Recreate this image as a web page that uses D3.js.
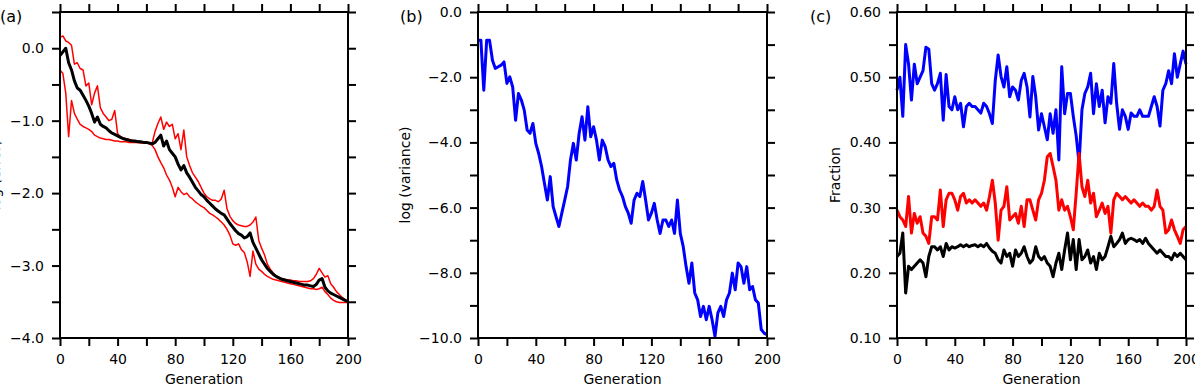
<!DOCTYPE html>
<html>
<head>
<meta charset="utf-8">
<script src="https://cdn.jsdelivr.net/npm/d3@7"></script>
<style>
  html, body { margin: 0; padding: 0; background: #fff; }
  svg { display: block; }
  text { font-family: "DejaVu Sans", "Liberation Sans", sans-serif; fill: #000; }
</style>
</head>
<body>
<svg id="chart" width="1195" height="386"></svg>
<script>
// ---------------- DATA ----------------
const generations = d3.range(0, 201, 2);   // generation index of every sample

const xTicks = [0, 20, 40, 60, 80, 100, 120, 140, 160, 180, 200];
const xTickLabels = [0, 40, 80, 120, 160, 200];

// (a) log error: mean (black), max / min envelope (red)
const aMean = [-0.10,-0.05,0.00,-0.20,-0.30,-0.45,-0.55,-0.58,-0.65,-0.72,
  -0.80,-0.90,-1.02,-0.95,-1.05,-1.08,-1.10,-1.14,-1.17,-1.19,
  -1.21,-1.23,-1.25,-1.26,-1.27,-1.28,-1.28,-1.29,-1.29,-1.30,
  -1.30,-1.31,-1.32,-1.30,-1.25,-1.20,-1.35,-1.28,-1.40,-1.45,
  -1.50,-1.60,-1.68,-1.62,-1.72,-1.78,-1.85,-1.92,-1.97,-2.02,
  -2.05,-2.10,-2.14,-2.18,-2.22,-2.25,-2.28,-2.30,-2.36,-2.42,
  -2.47,-2.52,-2.56,-2.58,-2.62,-2.60,-2.55,-2.68,-2.76,-2.84,
  -2.92,-2.98,-3.04,-3.08,-3.12,-3.15,-3.17,-3.19,-3.20,-3.21,
  -3.22,-3.23,-3.24,-3.25,-3.26,-3.27,-3.27,-3.28,-3.29,-3.26,
  -3.20,-3.18,-3.30,-3.35,-3.38,-3.40,-3.42,-3.44,-3.46,-3.48,
  -3.50];
const aMax = [0.15,0.17,0.10,0.08,0.04,-0.22,-0.20,-0.28,-0.30,-0.52,
  -0.48,-0.78,-0.62,-0.52,-0.82,-0.90,-0.95,-1.00,-0.98,-0.86,
  -1.18,-1.22,-1.24,-1.25,-1.26,-1.27,-1.28,-1.28,-1.29,-1.29,
  -1.30,-1.30,-1.31,-1.15,-1.04,-0.95,-1.12,-1.02,-1.08,-1.05,
  -1.25,-1.18,-1.40,-1.13,-1.50,-1.62,-1.72,-1.78,-1.84,-1.92,
  -2.00,-2.05,-2.08,-2.10,-2.10,-2.12,-2.08,-1.96,-2.22,-2.32,
  -2.38,-2.42,-2.44,-2.45,-2.46,-2.46,-2.44,-2.40,-2.33,-2.65,
  -2.76,-2.85,-2.98,-3.05,-3.10,-3.14,-3.16,-3.18,-3.19,-3.20,
  -3.20,-3.21,-3.21,-3.22,-3.22,-3.22,-3.22,-3.21,-3.18,-3.12,
  -3.04,-3.10,-3.16,-3.14,-3.25,-3.30,-3.36,-3.40,-3.44,-3.47,
  -3.49];
const aMin = [-0.30,-0.35,-0.62,-1.22,-0.72,-0.90,-0.98,-1.05,-1.08,-1.10,
  -1.12,-1.15,-1.20,-1.22,-1.24,-1.25,-1.26,-1.26,-1.27,-1.28,
  -1.28,-1.29,-1.29,-1.29,-1.30,-1.30,-1.30,-1.30,-1.31,-1.31,
  -1.31,-1.32,-1.34,-1.40,-1.50,-1.58,-1.65,-1.75,-1.82,-1.92,
  -2.05,-1.92,-1.98,-2.02,-2.00,-2.05,-2.08,-2.12,-2.15,-2.18,
  -2.20,-2.24,-2.28,-2.30,-2.33,-2.36,-2.40,-2.44,-2.50,-2.58,
  -2.70,-2.72,-2.70,-2.78,-2.82,-2.95,-3.15,-2.80,-2.98,-3.05,
  -3.08,-3.12,-3.15,-3.17,-3.19,-3.20,-3.21,-3.22,-3.23,-3.24,
  -3.25,-3.26,-3.27,-3.28,-3.29,-3.30,-3.31,-3.32,-3.32,-3.33,
  -3.32,-3.30,-3.36,-3.40,-3.45,-3.48,-3.50,-3.51,-3.51,-3.51,
  -3.51];
const aYTicks = [-4.0,-3.5,-3.0,-2.5,-2.0,-1.5,-1.0,-0.5,0.0,0.5];
const aYTickLabels = [-4.0,-3.0,-2.0,-1.0,0.0];

// (b) log variance
const bVariance = [-0.87,-0.87,-2.40,-0.87,-0.87,-1.48,-1.73,-1.68,-1.63,-1.53,
  -2.19,-1.99,-2.30,-3.32,-2.50,-2.70,-3.01,-3.62,-3.72,-3.42,
  -4.03,-4.34,-4.74,-5.26,-5.77,-5.05,-5.97,-6.28,-6.58,-6.17,
  -5.77,-5.36,-4.54,-4.03,-4.54,-3.72,-3.21,-3.93,-2.91,-3.83,
  -3.52,-3.93,-4.54,-3.93,-4.13,-4.54,-4.74,-4.64,-5.15,-5.46,
  -5.66,-5.97,-6.17,-6.48,-5.77,-5.56,-5.66,-5.20,-5.77,-6.38,
  -6.17,-5.87,-6.38,-6.79,-6.38,-6.38,-6.58,-6.38,-6.79,-5.77,
  -6.79,-7.19,-7.81,-8.32,-7.70,-8.62,-8.83,-9.34,-9.03,-9.44,
  -9.03,-9.44,-9.95,-9.23,-9.03,-9.34,-8.83,-8.62,-8.01,-8.52,
  -7.70,-7.81,-8.32,-7.81,-8.52,-8.42,-8.83,-8.93,-9.74,-9.85,
  -9.90];
const bYTicks = [-10,-9,-8,-7,-6,-5,-4,-3,-2,-1,0];
const bYTickLabels = [-10,-8,-6,-4,-2,0];

// (c) fractions
const cBlue = [0.480,0.500,0.440,0.550,0.520,0.465,0.520,0.490,0.500,0.510,
  0.546,0.543,0.490,0.480,0.490,0.506,0.434,0.504,0.455,0.450,
  0.470,0.450,0.460,0.424,0.455,0.460,0.455,0.455,0.450,0.445,
  0.460,0.455,0.444,0.429,0.495,0.534,0.501,0.485,0.516,0.470,
  0.485,0.480,0.465,0.495,0.506,0.485,0.439,0.501,0.470,0.419,
  0.444,0.424,0.404,0.444,0.414,0.450,0.373,0.516,0.444,0.475,
  0.475,0.440,0.410,0.368,0.450,0.475,0.485,0.506,0.444,0.490,
  0.455,0.480,0.430,0.470,0.460,0.521,0.460,0.420,0.450,0.440,
  0.420,0.445,0.440,0.440,0.450,0.440,0.440,0.440,0.455,0.470,
  0.455,0.425,0.480,0.490,0.510,0.490,0.536,0.500,0.520,0.540,
  0.520];
const cRed = [0.296,0.286,0.281,0.271,0.317,0.261,0.291,0.276,0.286,0.261,
  0.256,0.245,0.286,0.286,0.281,0.327,0.271,0.312,0.322,0.322,
  0.312,0.296,0.317,0.322,0.307,0.312,0.307,0.312,0.307,0.302,
  0.307,0.296,0.317,0.342,0.307,0.250,0.296,0.302,0.332,0.281,
  0.286,0.291,0.276,0.302,0.271,0.312,0.312,0.296,0.281,0.312,
  0.322,0.342,0.378,0.383,0.363,0.342,0.296,0.312,0.296,0.302,
  0.286,0.266,0.322,0.383,0.332,0.317,0.342,0.307,0.322,0.286,
  0.296,0.307,0.291,0.302,0.261,0.312,0.322,0.317,0.312,0.317,
  0.312,0.307,0.312,0.307,0.302,0.307,0.302,0.302,0.296,0.302,
  0.327,0.302,0.296,0.261,0.266,0.281,0.266,0.256,0.245,0.266,
  0.271];
const cBlack = [0.225,0.230,0.261,0.169,0.210,0.205,0.210,0.215,0.220,0.215,
  0.194,0.225,0.240,0.240,0.235,0.240,0.225,0.245,0.235,0.240,
  0.238,0.240,0.243,0.240,0.243,0.240,0.242,0.243,0.240,0.243,
  0.240,0.245,0.238,0.233,0.230,0.220,0.215,0.235,0.225,0.230,
  0.210,0.235,0.225,0.230,0.240,0.225,0.215,0.220,0.240,0.225,
  0.220,0.225,0.215,0.210,0.194,0.215,0.230,0.205,0.235,0.261,
  0.220,0.251,0.205,0.251,0.220,0.225,0.235,0.215,0.225,0.205,
  0.230,0.220,0.225,0.240,0.256,0.240,0.245,0.251,0.261,0.245,
  0.251,0.253,0.251,0.248,0.251,0.245,0.253,0.245,0.240,0.235,
  0.230,0.235,0.230,0.225,0.225,0.220,0.230,0.225,0.230,0.225,
  0.220];
const cYTicks = [0.10,0.15,0.20,0.25,0.30,0.35,0.40,0.45,0.50,0.55,0.60];
const cYTickLabels = [0.10,0.20,0.30,0.40,0.50,0.60];

// ---------------- DRAWING ----------------
const svg = d3.select('#chart');
const TOP = 12, BOTTOM = 338, TICK = 8;
const has = (arr, v) => arr.some(a => Math.abs(a - v) < 1e-9);

function drawPanel(cfg) {
  const x = d3.scaleLinear().domain([0, 200]).range([cfg.left, cfg.right]);
  const y = d3.scaleLinear().domain(cfg.yDomain).range([BOTTOM, TOP]);
  const g = svg.append('g');

  const styleAxis = sel => {
    sel.select('.domain').remove();
    sel.selectAll('.tick line').attr('stroke', '#000').attr('stroke-width', 2);
    sel.selectAll('.tick text').style('font-family', '"DejaVu Sans", sans-serif')
      .style('font-size', '14px').attr('fill', '#000');
  };

  g.append('g').attr('transform', `translate(0,${BOTTOM})`)
    .call(d3.axisBottom(x).tickValues(xTicks).tickSize(TICK).tickPadding(8)
      .tickFormat(v => has(xTickLabels, v) ? d3.format('d')(v) : ''))
    .call(styleAxis);
  g.append('g').attr('transform', `translate(0,${TOP})`)
    .call(d3.axisTop(x).tickValues(xTicks).tickSize(TICK).tickFormat(''))
    .call(styleAxis);
  g.append('g').attr('transform', `translate(${cfg.left},0)`)
    .call(d3.axisLeft(y).tickValues(cfg.yTicks).tickSize(TICK).tickPadding(8)
      .tickFormat(v => has(cfg.yTickLabels, v) ? d3.format(cfg.fmt)(v) : ''))
    .call(styleAxis);
  g.append('g').attr('transform', `translate(${cfg.right},0)`)
    .call(d3.axisRight(y).tickValues(cfg.yTicks).tickSize(TICK).tickFormat(''))
    .call(styleAxis);

  const line = d3.line().x((d, i) => x(generations[i])).y(d => y(d));
  cfg.series.forEach(s => {
    g.append('path').datum(s.values)
      .attr('d', line).attr('fill', 'none')
      .attr('stroke', s.color).attr('stroke-width', s.width)
      .attr('stroke-linejoin', 'round');
  });

  g.append('rect').attr('x', cfg.left).attr('y', TOP)
    .attr('width', cfg.right - cfg.left).attr('height', BOTTOM - TOP)
    .attr('fill', 'none').attr('stroke', '#000').attr('stroke-width', 2);

  g.append('text').attr('x', (cfg.left + cfg.right) / 2).attr('y', 384)
    .attr('text-anchor', 'middle').style('font-size', '14px').text('Generation');

  g.append('text')
    .attr('transform', `translate(${cfg.yLabelX},175) rotate(-90)`)
    .attr('text-anchor', 'middle').style('font-size', '14px').text(cfg.yLabel);

  g.append('text').attr('x', cfg.tagX).attr('y', 22)
    .style('font-size', '16px').text(cfg.tag);
}

drawPanel({
  left: 60, right: 348, yDomain: [-4, 0.5], yTicks: aYTicks, yTickLabels: aYTickLabels,
  fmt: '.1f', yLabel: 'log (error)', yLabelX: 0, tag: '(a)', tagX: 0,
  series: [
    { values: aMax, color: '#ff0000', width: 1.5 },
    { values: aMin, color: '#ff0000', width: 1.5 },
    { values: aMean, color: '#000000', width: 3 }
  ]
});
drawPanel({
  left: 478, right: 767, yDomain: [-10, 0], yTicks: bYTicks, yTickLabels: bYTickLabels,
  fmt: '.1f', yLabel: 'log (variance)', yLabelX: 410, tag: '(b)', tagX: 400,
  series: [ { values: bVariance, color: '#0000ff', width: 3 } ]
});
drawPanel({
  left: 897, right: 1186, yDomain: [0.10, 0.60], yTicks: cYTicks, yTickLabels: cYTickLabels,
  fmt: '.2f', yLabel: 'Fraction', yLabelX: 840, tag: '(c)', tagX: 810,
  series: [
    { values: cBlue, color: '#0000ff', width: 3 },
    { values: cRed, color: '#ff0000', width: 3 },
    { values: cBlack, color: '#000000', width: 3 }
  ]
});
</script>
</body>
</html>
